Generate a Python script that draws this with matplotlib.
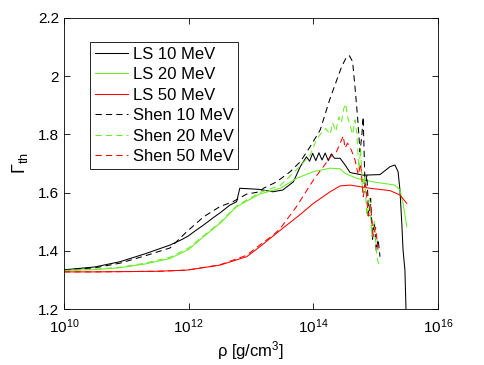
import numpy as np
import matplotlib
matplotlib.use("Agg")
import matplotlib.pyplot as plt
from matplotlib.ticker import FixedLocator, FuncFormatter, NullLocator

plt.rcParams['font.family'] = ['Liberation Sans', 'DejaVu Sans']

# log10(rho) and Gamma_th values
ls10_lg = [10.0, 10.5, 10.9, 11.3, 11.7, 11.9, 12.0, 12.1, 12.24, 12.4, 12.5, 12.66, 12.77, 12.82,
           13.0, 13.14, 13.35, 13.51, 13.68, 13.79, 13.89, 13.94, 13.99, 14.04, 14.09, 14.14, 14.19,
           14.24, 14.29, 14.34, 14.43, 14.51, 14.59, 14.80, 15.07, 15.23, 15.31, 15.36, 15.39, 15.42,
           15.44, 15.47, 15.50]
ls10_g = [1.335, 1.345, 1.363, 1.39, 1.42, 1.44, 1.452, 1.468, 1.489, 1.515, 1.53, 1.557, 1.569, 1.615,
          1.613, 1.611, 1.603, 1.609, 1.637, 1.689, 1.723, 1.708, 1.735, 1.71, 1.737, 1.712, 1.736,
          1.71, 1.733, 1.718, 1.718, 1.695, 1.669, 1.66, 1.662, 1.689, 1.695, 1.672, 1.609, 1.494,
          1.403, 1.334, 1.10]

ls20_lg = [10.0, 10.5, 10.9, 11.3, 11.7, 12.0, 12.24, 12.5, 12.77, 13.14, 13.47, 13.73, 14.0, 14.27,
           14.43, 14.51, 14.70, 14.96, 15.31, 15.39, 15.44, 15.50]
ls20_g = [1.333, 1.336, 1.342, 1.355, 1.374, 1.405, 1.449, 1.494, 1.552, 1.595, 1.615, 1.649, 1.672,
          1.684, 1.682, 1.666, 1.649, 1.637, 1.626, 1.609, 1.563, 1.483]

ls50_lg = [10.0, 10.5, 11.0, 11.5, 11.97, 12.5, 12.93, 13.14, 13.47, 13.79, 14.0, 14.27, 14.43, 14.59,
           14.91, 15.23, 15.39, 15.50]
ls50_g = [1.328, 1.328, 1.329, 1.33, 1.334, 1.351, 1.38, 1.414, 1.471, 1.525, 1.563, 1.603, 1.623,
          1.626, 1.615, 1.607, 1.592, 1.563]

sh10_lg = [10.0, 10.5, 10.9, 11.3, 11.7, 11.97, 12.24, 12.5, 12.71, 12.93, 13.14, 13.2, 13.41, 13.63,
           13.79, 13.95, 14.11, 14.27, 14.45, 14.53, 14.58, 14.63, 14.67, 14.71, 14.75, 14.78, 14.80,
           14.83, 14.86, 14.89, 14.92, 14.95, 14.98, 15.01, 15.04, 15.07]
sh10_g = [1.335, 1.342, 1.358, 1.383, 1.41, 1.466, 1.517, 1.552, 1.569, 1.595, 1.603, 1.615, 1.637,
          1.672, 1.706, 1.758, 1.815, 1.924, 2.03, 2.065, 2.07, 2.05, 1.96, 1.86, 1.74, 1.80, 1.86,
          1.62, 1.66, 1.52, 1.58, 1.44, 1.50, 1.40, 1.44, 1.38]

sh20_lg = [10.0, 10.5, 10.9, 11.3, 11.7, 12.0, 12.24, 12.5, 12.77, 13.14, 13.47, 13.73, 13.95, 14.05,
           14.11, 14.2, 14.27, 14.31, 14.36, 14.41, 14.45, 14.49, 14.52, 14.55, 14.59, 14.63, 14.67,
           14.70, 14.73, 14.76, 14.79, 14.82, 14.86, 14.90, 14.94, 14.98, 15.02, 15.05]
sh20_g = [1.333, 1.337, 1.344, 1.358, 1.378, 1.41, 1.452, 1.497, 1.555, 1.60, 1.625, 1.678, 1.729,
          1.781, 1.80, 1.82, 1.80, 1.84, 1.81, 1.86, 1.84, 1.89, 1.905, 1.86, 1.83, 1.80, 1.85, 1.80,
          1.68, 1.75, 1.60, 1.66, 1.52, 1.58, 1.45, 1.50, 1.38, 1.355]

sh50_lg = [10.0, 10.5, 11.0, 11.5, 11.97, 12.5, 12.93, 13.14, 13.36, 13.47, 13.73, 14.0, 14.16, 14.32,
           14.37, 14.42, 14.48, 14.51, 14.55, 14.61, 14.67, 14.72, 14.76, 14.80, 14.84, 14.88, 14.92,
           14.96, 15.00, 15.04]
sh50_g = [1.328, 1.328, 1.329, 1.33, 1.334, 1.352, 1.385, 1.42, 1.455, 1.477, 1.552, 1.643, 1.689,
          1.735, 1.74, 1.764, 1.795, 1.753, 1.77, 1.746, 1.712, 1.66, 1.70, 1.586, 1.63, 1.52, 1.56,
          1.45, 1.48, 1.40]

xtick_exp = [10, 12, 14, 16]
yticks = [1.2, 1.4, 1.6, 1.8, 2.0, 2.2]

green = '#66ee22'
fig = plt.figure(figsize=(4.85, 3.65), dpi=100)
ax = fig.add_axes([0.132, 0.153, 0.771, 0.798])

lw = 0.75
dash = (0, (6, 4))
ax.plot(10.0 ** np.array(ls10_lg), ls10_g, color='k', lw=lw, label='LS 10 MeV')
ax.plot(10.0 ** np.array(ls20_lg), ls20_g, color=green, lw=lw, label='LS 20 MeV')
ax.plot(10.0 ** np.array(ls50_lg), ls50_g, color='red', lw=lw, label='LS 50 MeV')
ax.plot(10.0 ** np.array(sh10_lg), sh10_g, color='k', lw=lw, ls=dash, label='Shen 10 MeV')
ax.plot(10.0 ** np.array(sh20_lg), sh20_g, color=green, lw=lw, ls=dash, label='Shen 20 MeV')
ax.plot(10.0 ** np.array(sh50_lg), sh50_g, color='red', lw=lw, ls=dash, label='Shen 50 MeV')

ax.set_xscale('log')
ax.set_xlim(1e10, 1e16)
ax.set_ylim(1.2, 2.2)
ax.xaxis.set_major_locator(FixedLocator([10.0 ** e for e in xtick_exp]))
ax.xaxis.set_minor_locator(NullLocator())
ax.set_xticklabels([r'$\mathregular{10^{%d}}$' % e for e in xtick_exp])
ax.set_yticks(yticks)
ax.yaxis.set_major_formatter(FuncFormatter(lambda v, p: f'{v:g}'))
ax.tick_params(direction='in', top=True, right=True, length=4, width=0.6, labelsize=11)
ax.tick_params(axis='x', pad=6)
for s in ax.spines.values():
    s.set_linewidth(0.6)

ax.set_xlabel(r'ρ [g/cm$\mathregular{^3}$]', fontsize=12, labelpad=2)
ax.set_ylabel(r'$\mathregular{\Gamma_{th}}$', fontsize=13, labelpad=6)

leg = ax.legend(loc='upper left', bbox_to_anchor=(0.0695, 0.9185), borderaxespad=0,
                fontsize=12, handlelength=2.0, handletextpad=0.25, labelspacing=0.33,
                fancybox=False, framealpha=1, edgecolor='k', borderpad=0.3)
leg.get_frame().set_linewidth(0.6)

fig.savefig('out.png', dpi=100)
